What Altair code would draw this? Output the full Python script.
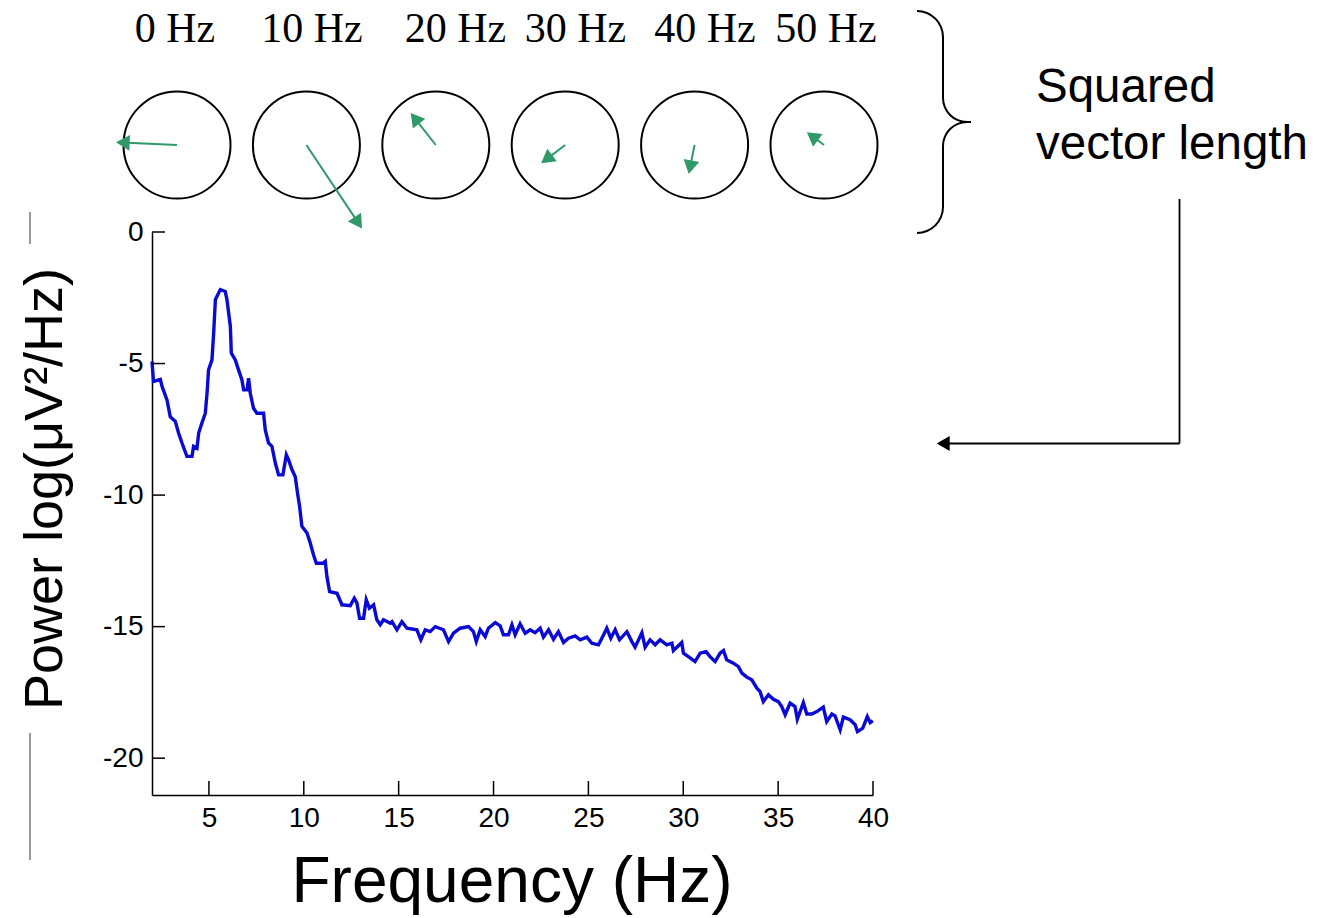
import math
import altair as alt
import pandas as pd

# ---------------- data ----------------
freq_hz = [2.00, 2.08, 2.44, 2.53, 2.79, 2.96, 3.23, 3.40, 3.58, 3.84, 4.11, 4.19, 4.37, 4.46,
           4.63, 4.81, 4.90, 4.98, 5.16, 5.25, 5.34, 5.42, 5.60, 5.86, 5.95, 6.04, 6.13, 6.18,
           6.39, 6.56, 6.74, 6.83, 7.01, 7.09, 7.18, 7.35, 7.53, 7.88, 7.97, 8.14, 8.32, 8.50,
           8.67, 8.90, 9.08, 9.20, 9.38, 9.55, 9.67, 9.78, 9.90, 10.17, 10.34, 10.51, 10.66,
           11.01, 11.13, 11.22, 11.36, 11.75, 12.01, 12.45, 12.66, 12.80, 12.94, 13.15, 13.29,
           13.46, 13.68, 13.85, 14.03, 14.20, 14.56, 14.65, 14.91, 15.17, 15.44, 15.96, 16.17,
           16.40, 16.66, 16.93, 17.36, 17.63, 17.89, 18.24, 18.68, 18.94, 19.09, 19.30, 19.56,
           19.73, 20.09, 20.35, 20.52, 20.79, 20.97, 21.14, 21.40, 21.67, 21.93, 22.19, 22.46,
           22.63, 22.90, 23.16, 23.42, 23.69, 23.95, 24.30, 24.57, 24.92, 25.18, 25.53, 25.71,
           25.97, 26.18, 26.41, 26.64, 27.03, 27.29, 27.46, 27.82, 27.99, 28.25, 28.52, 28.78,
           29.13, 29.40, 29.48, 29.92, 30.01, 30.27, 30.62, 30.89, 31.20, 31.41, 31.68, 31.94,
           32.12, 32.29, 32.64, 32.91, 33.09, 33.35, 33.61, 33.88, 34.05, 34.22, 34.49, 34.75,
           35.01, 35.19, 35.37, 35.63, 35.89, 36.01, 36.33, 36.51, 36.77, 37.04, 37.38, 37.56,
           37.83, 38.00, 38.27, 38.44, 38.79, 39.06, 39.18, 39.46, 39.70, 39.85, 39.99]
power_log = [-4.92, -5.68, -5.60, -5.87, -6.38, -7.02, -7.20, -7.64, -8.02, -8.53, -8.53, -8.15,
             -8.22, -7.64, -7.26, -6.89, -6.13, -5.24, -4.86, -3.84, -2.57, -2.45, -2.19, -2.26,
             -2.57, -3.08, -3.59, -4.60, -4.86, -5.24, -5.62, -6.00, -6.00, -5.56, -6.13, -6.70,
             -6.89, -6.89, -7.52, -8.02, -8.15, -8.78, -9.23, -9.23, -8.47, -8.66, -9.04, -9.30,
             -9.92, -10.43, -11.19, -11.44, -11.82, -12.27, -12.59, -12.59, -12.52, -13.10,
             -13.67, -13.73, -14.17, -14.20, -13.92, -14.10, -14.68, -14.68, -13.98, -14.30,
             -14.17, -14.74, -14.93, -14.74, -14.87, -14.81, -15.12, -14.81, -15.06, -15.12,
             -15.50, -15.12, -15.19, -15.00, -15.12, -15.57, -15.25, -15.06, -15.00, -15.19,
             -15.57, -15.12, -15.38, -15.06, -14.85, -14.97, -15.31, -15.31, -14.93, -15.31,
             -14.89, -15.25, -15.12, -15.23, -15.06, -15.40, -15.12, -15.48, -15.19, -15.60,
             -15.44, -15.35, -15.50, -15.40, -15.63, -15.69, -15.44, -15.06, -15.44, -15.12,
             -15.50, -15.19, -15.57, -15.78, -15.23, -15.78, -15.50, -15.69, -15.50, -15.69,
             -15.63, -15.91, -15.60, -16.01, -16.14, -16.33, -16.01, -15.95, -16.14, -16.33,
             -16.01, -15.91, -16.26, -16.39, -16.52, -16.77, -16.92, -17.02, -17.34, -17.47,
             -17.85, -17.59, -17.76, -17.85, -18.04, -18.35, -17.91, -18.04, -18.52, -17.89,
             -18.32, -18.32, -18.23, -18.06, -18.61, -18.32, -18.39, -18.92, -18.44, -18.54,
             -18.73, -18.99, -18.86, -18.42, -18.65, -18.57]

x_ticks = [5, 10, 15, 20, 25, 30, 35, 40]
y_ticks = [0, -5, -10, -15, -20]

vec_labels = ["0 Hz", "10 Hz", "20 Hz", "30 Hz", "40 Hz", "50 Hz"]
# vector components in units of the circle radius (x right, y up)
vec_x = [-1.14, 1.04, -0.47, -0.45, -0.11, -0.32]
vec_y = [0.05, -1.56, 0.60, -0.34, -0.54, 0.24]

# ---------------- layout ----------------
OX, OY = 152, 232          # plot origin in page pixels
W, H = 721, 563
XDOM = [2, 40]
YDOM = [-21.4, 0]
CIRC_R = 53.5              # circle radius px
CIRC_STEP = 129.4          # px between circle centres
CIRC_X0 = 177 - OX
CIRC_Y = 145 - OY
BLUE = "#0a0ad4"
GREEN = "#2f9a68"
SANS = "Liberation Sans"
SERIF = "Liberation Serif"

df = pd.DataFrame({"f": freq_hz, "p": power_log})

xs = alt.Scale(domain=XDOM, nice=False, zero=False)
ys = alt.Scale(domain=YDOM, nice=False, zero=False)

axis_common = dict(ticks=False, tickSize=0, domain=True, domainColor="black", domainWidth=1.5,
                   labelFont=SANS, labelFontSize=28, labelColor="black", grid=False,
                   labelFlush=False, labelOverlap=False, labelExpr="'' + datum.value")

line = alt.Chart(df).mark_line(color=BLUE, strokeWidth=3.4, strokeJoin="miter").encode(
    x=alt.X("f:Q", scale=xs, title="",
            axis=alt.Axis(values=x_ticks, labelPadding=9, **axis_common)),
    y=alt.Y("p:Q", scale=ys, title="",
            axis=alt.Axis(values=y_ticks, labelPadding=9, **axis_common)),
)

xt = alt.Chart(pd.DataFrame({"t": x_ticks})).mark_rule(color="black", strokeWidth=1.5).encode(
    x=alt.X("t:Q", scale=xs), y=alt.value(H), y2=alt.value(H - 14))
yt = alt.Chart(pd.DataFrame({"t": y_ticks})).mark_rule(color="black", strokeWidth=1.5).encode(
    y=alt.Y("t:Q", scale=ys), x=alt.value(0), x2=alt.value(13))

main = alt.layer(line, xt, yt)

# ---- phase-vector circles ----
k = CIRC_R / CIRC_STEP
vdf = pd.DataFrame({"label": vec_labels, "vx": vec_x, "vy": vec_y})
vdf["idx"] = range(len(vdf))
vdf["zero"] = 0.0
L = (vdf.vx ** 2 + vdf.vy ** 2) ** 0.5
ux, uy = vdf.vx / L, vdf.vy / L
head_len = 13.7 / CIRC_R
vdf["sx2"] = vdf.idx + (vdf.vx - ux * head_len * 0.8) * k
vdf["sy2"] = vdf.vy - uy * head_len * 0.8
vdf["hx"] = vdf.idx + (vdf.vx - ux * head_len / 2) * k
vdf["hy"] = vdf.vy - uy * head_len / 2
vdf["ang"] = [(math.degrees(math.atan2(a, b)) + 360) % 360 for a, b in zip(vdf.vx, vdf.vy)]

cx = alt.Scale(domain=[0, 5], range=[CIRC_X0, CIRC_X0 + 5 * CIRC_STEP], nice=False, zero=False)
cy = alt.Scale(domain=[-1, 1], range=[CIRC_Y + CIRC_R, CIRC_Y - CIRC_R], nice=False, zero=False)

circles = alt.Chart(vdf).mark_point(shape="circle", size=(2 * CIRC_R) ** 2, filled=False,
                                    stroke="black", strokeWidth=2, opacity=1).encode(
    x=alt.X("idx:Q", scale=cx, axis=None), y=alt.Y("zero:Q", scale=cy, axis=None))
shafts = alt.Chart(vdf).mark_rule(color=GREEN, strokeWidth=2).encode(
    x=alt.X("idx:Q", scale=cx, axis=None), y=alt.Y("zero:Q", scale=cy, axis=None),
    x2="sx2:Q", y2="sy2:Q")
heads = alt.Chart(vdf).mark_point(shape="triangle-up", filled=True, size=250, color=GREEN,
                                  opacity=1, strokeWidth=0).encode(
    x=alt.X("hx:Q", scale=cx, axis=None), y=alt.Y("hy:Q", scale=cy, axis=None),
    angle=alt.Angle("ang:Q", scale=None))
top = alt.layer(circles, shafts, heads)

one = alt.Data(values=[{"k": 0}])
decos = []

# frequency labels above circles
label_centres = [175, 312, 455.5, 575.5, 705, 826]
for lab, c in zip(vec_labels, label_centres):
    decos.append(alt.Chart(one).mark_text(text=lab, font=SERIF, fontSize=42, color="black",
                                          align="center", baseline="alphabetic").encode(
        x=alt.value(c - OX), y=alt.value(42 - OY)))

# curly brace
def rule(x1, y1, x2, y2, color="black", w=2.0):
    return alt.Chart(one).mark_rule(color=color, strokeWidth=w).encode(
        x=alt.value(x1 - OX), y=alt.value(y1 - OY), x2=alt.value(x2 - OX), y2=alt.value(y2 - OY))

def arc(cxp, cyp, r, t0, t1):
    return alt.Chart(one).mark_arc(color="black", radius=r + 1, radius2=r - 1,
                                   theta=t0, theta2=t1).encode(
        x=alt.value(cxp - OX), y=alt.value(cyp - OY))

PI = math.pi
decos += [
    arc(917, 37, 26, 0, PI / 2),
    rule(943, 37, 943, 98),
    arc(967, 98, 24, PI, 1.5 * PI),
    arc(967, 146, 24, 1.5 * PI, 2 * PI),
    rule(966, 122, 971, 122),
    rule(943, 146, 943, 207),
    arc(917, 207, 26, PI / 2, PI),
]

# right-hand annotation
decos.append(alt.Chart(one).mark_text(text="Squared", font=SANS, fontSize=47.5, color="black",
                                      align="left", baseline="alphabetic").encode(
    x=alt.value(1036 - OX), y=alt.value(102 - OY)))
decos.append(alt.Chart(one).mark_text(text="vector length", font=SANS, fontSize=47.5, color="black",
                                      align="left", baseline="alphabetic").encode(
    x=alt.value(1036 - OX), y=alt.value(159 - OY)))
decos.append(rule(1179.5, 199, 1179.5, 443.5, w=1.8))
decos.append(rule(1179.5, 443.5, 948, 443.5, w=1.8))
decos.append(alt.Chart(one).mark_point(shape="triangle-left", filled=True, size=225, color="black",
                                       opacity=1, strokeWidth=0).encode(
    x=alt.value(943.2 - OX), y=alt.value(443.5 - OY)))

# left thin lines
decos.append(rule(30, 212, 30, 244, color="#555555", w=1.2))
decos.append(rule(30, 733, 30, 860, color="#555555", w=1.2))

# axis titles
decos.append(alt.Chart(one).mark_text(text="Power log(\u03bcV\u00b2/Hz)", font=SANS, fontSize=54,
                                      color="black", angle=270, align="center",
                                      baseline="alphabetic").encode(
    x=alt.value(62 - OX), y=alt.value(489 - OY)))
decos.append(alt.Chart(one).mark_text(text="Frequency (Hz)", font=SANS, fontSize=64, color="black",
                                      align="center", baseline="alphabetic").encode(
    x=alt.value(512 - OX), y=alt.value(902 - OY)))

chart = alt.layer(main, top, *decos).resolve_scale(x="independent", y="independent").properties(
    width=W, height=H,
    autosize=alt.AutoSizeParams(type="none"),
    padding={"left": OX, "top": OY, "right": 1320 - OX - W, "bottom": 918 - OY - H},
    background="white",
).configure_view(stroke=None)

chart.save("out.html", embed_options={"renderer": "svg", "actions": False})
